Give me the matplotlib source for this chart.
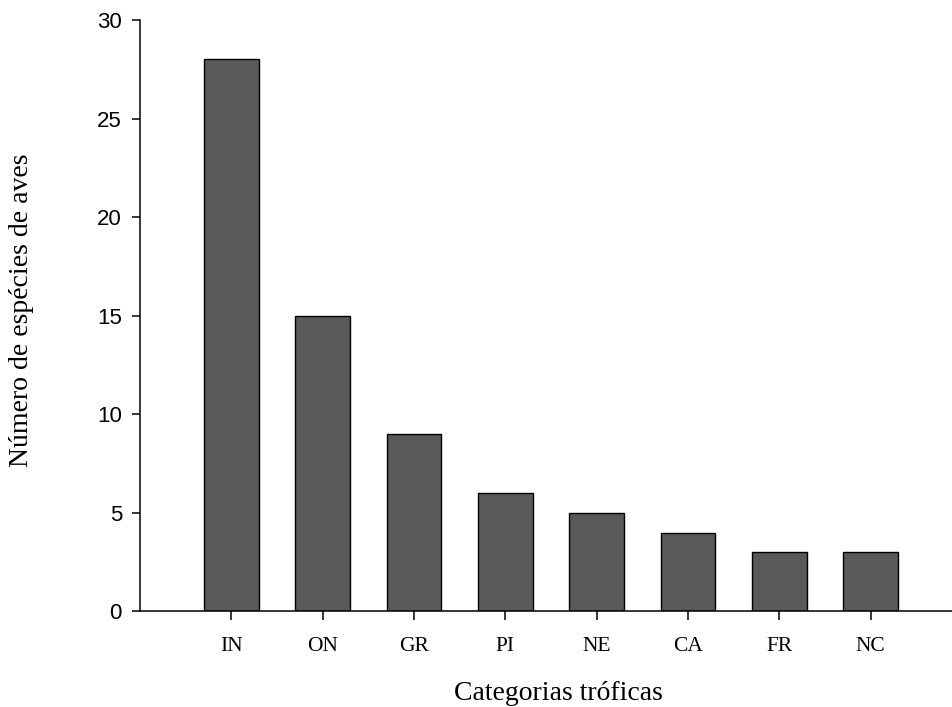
import matplotlib.pyplot as plt

# dados
categorias = ['IN', 'ON', 'GR', 'PI', 'NE', 'CA', 'FR', 'NC']
n_especies = [28, 15, 9, 6, 5, 4, 3, 3]

fig = plt.figure(figsize=(9.53, 7.07), dpi=100)
ax = fig.add_axes([0.1469, 0.1351, 0.8531, 0.8366])

x = list(range(len(categorias)))
ax.bar(x, n_especies, width=0.6, color='#595959', edgecolor='black', linewidth=1.0)

ax.set_xlim(-1.0, 7.9)
ax.set_ylim(0, 30)
ax.set_yticks([0, 5, 10, 15, 20, 25, 30])
ax.set_xticks(x)
ax.set_xticklabels(categorias, family='Liberation Serif', fontsize=15.5)
for lab in ax.get_yticklabels():
    lab.set_family('Liberation Sans')
    lab.set_fontsize(16)

ax.spines['top'].set_visible(False)
ax.spines['right'].set_visible(False)
for s in ['left', 'bottom']:
    ax.spines[s].set_linewidth(1.1)
ax.tick_params(axis='y', direction='out', length=6, width=1.1, pad=7)
ax.tick_params(axis='x', direction='out', length=6.3, width=1.1, pad=12)

# rótulos dos eixos
fig.text(558 / 953, 1 - 694 / 707, 'Categorias tróficas', family='Liberation Serif',
         fontsize=20, ha='center', va='center')
fig.text(22 / 953, 1 - 310 / 707, 'Número de espécies de aves', family='Liberation Serif',
         fontsize=20, ha='center', va='center', rotation=90)

fig.savefig('out.png', dpi=100)
